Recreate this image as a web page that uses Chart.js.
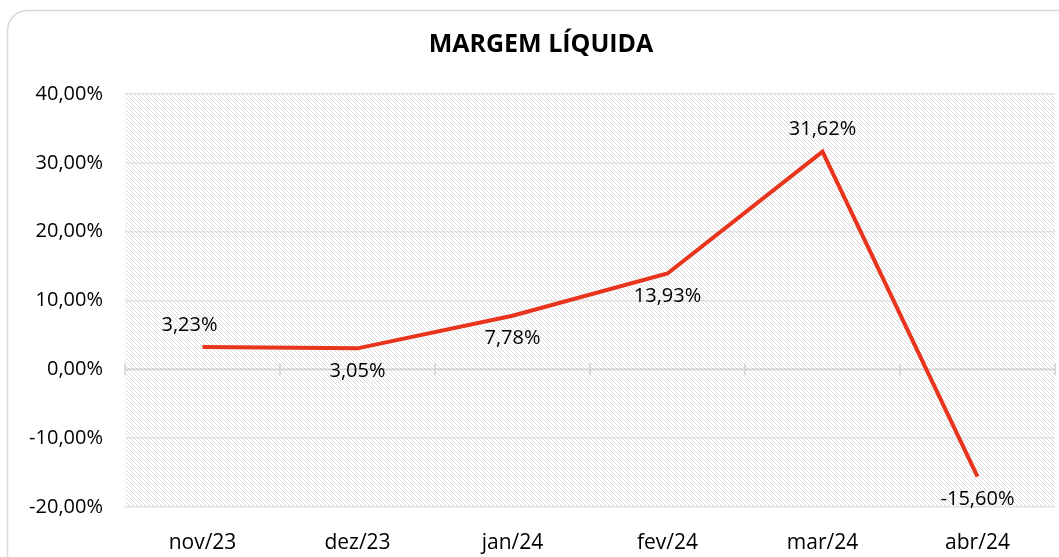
<!DOCTYPE html>
<html lang="pt">
<head>
    <meta charset="UTF-8" />
    <title>Margem Líquida</title>
    <script src="https://cdn.jsdelivr.net/npm/chart.js"></script>
    <style>
        html, body {
            margin: 0;
            padding: 0;
            background: #ffffff;
        }
        .chart-container {
            width: 1059px;
            height: 557px;
            position: relative;
        }
    </style>
</head>
<body>
    <div class="chart-container">
        <canvas id="margemChart"></canvas>
    </div>

    <script>
        const chartTitle = 'MARGEM LÍQUIDA';
        const months = ['nov/23', 'dez/23', 'jan/24', 'fev/24', 'mar/24', 'abr/24'];
        const margem = [3.23, 3.05, 7.78, 13.93, 31.62, -15.60];
        // where each value label sits relative to its point
        const labelSide = ['above', 'below', 'below', 'below', 'above', 'below'];
        const labelNudgeX = [-13, 0, 0, 0, 0, 0];

        const FONT = '"Open Sans", sans-serif';
        const fmt = v => v.toFixed(2).replace('.', ',') + '%';

        // diagonal hatch used as plot background
        function makeHatch() {
            const c = document.createElement('canvas');
            c.width = 4;
            c.height = 4;
            const g = c.getContext('2d');
            g.fillStyle = '#ffffff';
            g.fillRect(0, 0, 4, 4);
            g.fillStyle = '#dcdcdc';
            for (let i = 0; i < 4; i++) g.fillRect(i, i, 1, 1);
            return g.createPattern(c, 'repeat');
        }

        const frame = {
            id: 'frame',
            beforeDraw(chart) {
                const { ctx, chartArea: a } = chart;
                ctx.save();
                // card border
                ctx.strokeStyle = '#d9d9d9';
                ctx.lineWidth = 1.5;
                ctx.beginPath();
                ctx.roundRect(7.5, 10.5, 1080, 600, 20);
                ctx.stroke();
                // hatched plot area
                ctx.fillStyle = makeHatch();
                ctx.fillRect(a.left, a.top, a.right - a.left, a.bottom - a.top);
                // title
                ctx.fillStyle = '#000000';
                ctx.font = 'bold 25px ' + FONT;
                ctx.textAlign = 'center';
                ctx.textBaseline = 'middle';
                ctx.fillText(chartTitle, 541, 45);
                ctx.restore();
            },
            afterDatasetsDraw(chart) {
                const { ctx } = chart;
                const meta = chart.getDatasetMeta(0);
                ctx.save();
                ctx.fillStyle = '#000000';
                ctx.font = '20px ' + FONT;
                ctx.textAlign = 'center';
                ctx.textBaseline = 'middle';
                meta.data.forEach((pt, i) => {
                    const dy = labelSide[i] === 'above' ? -22 : 23;
                    ctx.fillText(fmt(margem[i]), pt.x + labelNudgeX[i], pt.y + dy);
                });
                ctx.restore();
            }
        };

        // horizontal axis line at zero with tick marks between categories
        const zeroAxis = {
            id: 'zeroAxis',
            beforeDatasetsDraw(chart) {
                const { ctx, scales: { x, y } } = chart;
                const y0 = y.getPixelForValue(0);
                ctx.save();
                ctx.strokeStyle = '#d0d0d0';
                ctx.lineWidth = 1.5;
                ctx.beginPath();
                ctx.moveTo(x.left, y0);
                ctx.lineTo(x.right, y0);
                for (let i = 0; i <= months.length; i++) {
                    const px = x.getPixelForValue(i - 0.5);
                    ctx.moveTo(px, y0 - 6);
                    ctx.lineTo(px, y0 + 6);
                }
                ctx.stroke();
                ctx.restore();
            }
        };

        const ctx = document.getElementById('margemChart').getContext('2d');

        new Chart(ctx, {
            type: 'line',
            data: {
                labels: months,
                datasets: [{
                    label: 'Margem Líquida',
                    data: margem,
                    borderColor: '#e8341c',
                    backgroundColor: '#e8341c',
                    borderWidth: 4,
                    pointRadius: 0,
                    tension: 0
                }]
            },
            options: {
                responsive: true,
                maintainAspectRatio: false,
                animation: false,
                layout: {
                    padding: { top: 94, right: 4, left: 0, bottom: 0 }
                },
                scales: {
                    x: {
                        offset: true,
                        grid: { display: false },
                        border: { display: false },
                        ticks: {
                            color: '#000000',
                            font: { family: FONT, size: 21 },
                            padding: 15
                        },
                        afterFit(scale) { scale.height = 50; }
                    },
                    y: {
                        min: -20,
                        max: 40,
                        grid: {
                            color: '#e2e2e2',
                            lineWidth: 1.5,
                            drawTicks: false
                        },
                        border: { display: false },
                        ticks: {
                            stepSize: 10,
                            color: '#000000',
                            font: { family: FONT, size: 20 },
                            padding: 22,
                            callback: v => fmt(v)
                        },
                        afterFit(scale) { scale.width = 125; }
                    }
                },
                plugins: {
                    legend: { display: false },
                    tooltip: { enabled: false }
                }
            },
            plugins: [frame, zeroAxis]
        });
    </script>
</body>
</html>
